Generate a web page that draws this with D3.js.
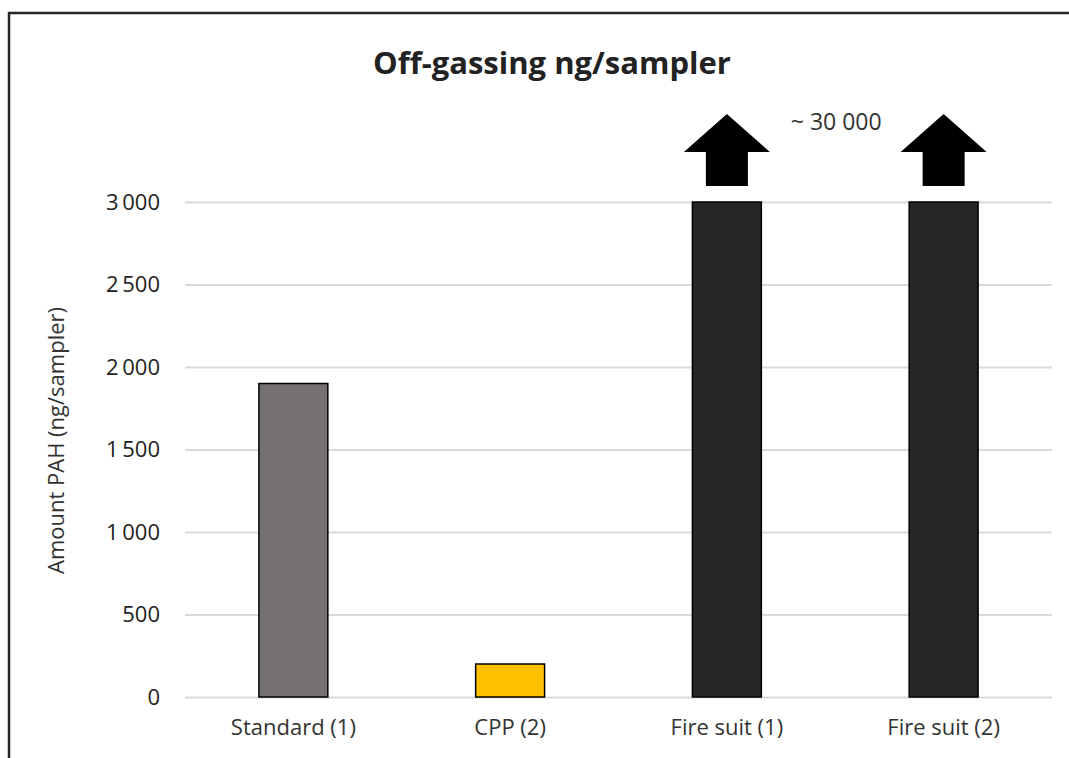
<!DOCTYPE html>
<html>
<head>
<meta charset="utf-8">
<script src="https://cdn.jsdelivr.net/npm/d3@7"></script>
<style>
  body { margin: 0; background: #fff; }
  svg { display: block; font-family: "Open Sans", "Noto Sans", sans-serif; }
</style>
</head>
<body>
<div id="chart"></div>
<script>
// Data ------------------------------------------------------------------------------------------------------------
const categories = ["Standard (1)", "CPP (2)", "Fire suit (1)", "Fire suit (2)"];
const values = [1900, 200, 30000, 30000];
const barColors = ["#757170", "#ffc000", "#262626", "#262626"];
const yTicks = [0, 500, 1000, 1500, 2000, 2500, 3000];
const yMax = 3000;
const offScaleLabel = "~ 30 000";

// Canvas ----------------------------------------------------------------------------------------------------------
const canvasWidth = 1069;
const canvasHeight = 758;

const leftPadding = 185;
const rightPadding = 17;
const topPadding = 202;
const bottomPadding = 61;

const fontFamily = "'Open Sans', 'Noto Sans', sans-serif";

const svg = d3.select("#chart")
  .append("svg")
  .attr("width", canvasWidth)
  .attr("height", canvasHeight);

// outer frame (only top and left edges are visible in the picture)
svg.append("rect")
  .attr("x", 9)
  .attr("y", 13)
  .attr("width", canvasWidth + 20)
  .attr("height", canvasHeight + 20)
  .style("fill", "none")
  .style("stroke", "#262626")
  .style("stroke-width", 2.5);

const xScale = d3.scaleBand()
  .domain(categories)
  .range([leftPadding, canvasWidth - rightPadding]);
const yScale = d3.scaleLinear()
  .domain([0, yMax])
  .range([canvasHeight - bottomPadding, topPadding])
  .clamp(true);

const barWidth = xScale.bandwidth() * 0.318;

const fmt = d3.formatLocale({ decimal: ",", thousands: "\u2009", grouping: [3], currency: ["", ""] }).format(",d");

// Gridlines and y axis --------------------------------------------------------------------------------------------
const yAxis = svg.append("g")
  .attr("transform", "translate(" + leftPadding + ",0)")
  .call(d3.axisLeft(yScale)
    .tickValues(yTicks)
    .tickFormat(fmt)
    .tickSize(-(canvasWidth - leftPadding - rightPadding))
    .tickPadding(25))
  .attr("font-family", fontFamily)
  .attr("font-size", 22);
yAxis.select(".domain").remove();
yAxis.selectAll("line")
  .style("stroke", "#d9d9d9")
  .style("stroke-width", 2);
yAxis.selectAll("text")
  .attr("dy", "0.34em")
  .style("fill", "#222");

svg.append("text")
  .text("Amount PAH (ng/sampler)")
  .attr("transform", "translate(55," + ((topPadding + canvasHeight - bottomPadding) / 2 - 9) + ") rotate(-90)")
  .style("text-anchor", "middle")
  .style("dominant-baseline", "central")
  .style("font-size", "22px")
  .style("fill", "#333");

// x axis labels ---------------------------------------------------------------------------------------------------
svg.append("g")
  .selectAll("text")
  .data(categories)
  .join("text")
  .text(d => d)
  .attr("x", d => xScale(d) + xScale.bandwidth() / 2)
  .attr("y", canvasHeight - bottomPadding + 29)
  .style("text-anchor", "middle")
  .style("dominant-baseline", "central")
  .style("font-size", "22px")
  .style("fill", "#333");

// Bars ------------------------------------------------------------------------------------------------------------
svg.append("g")
  .selectAll("rect")
  .data(values)
  .join("rect")
  .attr("x", (d, i) => xScale(categories[i]) + (xScale.bandwidth() - barWidth) / 2)
  .attr("y", d => yScale(d))
  .attr("width", barWidth)
  .attr("height", d => yScale(0) - yScale(d))
  .style("fill", (d, i) => barColors[i])
  .style("stroke", "#000")
  .style("stroke-width", 1.5);

// Off-scale arrows ------------------------------------------------------------------------------------------------
const arrowPath = function(cx, base) {
  const shaftHalf = 21, headHalf = 43, shaftH = 34, headH = 38;
  return "M" + (cx - shaftHalf) + "," + base +
    "L" + (cx - shaftHalf) + "," + (base - shaftH) +
    "L" + (cx - headHalf) + "," + (base - shaftH) +
    "L" + cx + "," + (base - shaftH - headH) +
    "L" + (cx + headHalf) + "," + (base - shaftH) +
    "L" + (cx + shaftHalf) + "," + (base - shaftH) +
    "L" + (cx + shaftHalf) + "," + base + "Z";
};

const offScale = categories.filter((c, i) => values[i] > yMax);
svg.append("g")
  .selectAll("path")
  .data(offScale)
  .join("path")
  .attr("d", d => arrowPath(xScale(d) + xScale.bandwidth() / 2, yScale(yMax) - 16))
  .style("fill", "#000");

svg.append("text")
  .text(offScaleLabel)
  .attr("x", (xScale(offScale[0]) + xScale(offScale[1]) + xScale.bandwidth()) / 2 + 1)
  .attr("y", 121)
  .style("text-anchor", "middle")
  .style("dominant-baseline", "central")
  .style("font-size", "23px")
  .style("fill", "#333");

// Title -----------------------------------------------------------------------------------------------------------
svg.append("text")
  .text("Off-gassing ng/sampler")
  .attr("x", 552)
  .attr("y", 62)
  .style("text-anchor", "middle")
  .style("dominant-baseline", "central")
  .style("font-size", "31px")
  .style("font-weight", "bold")
  .style("fill", "#222");
</script>
</body>
</html>
